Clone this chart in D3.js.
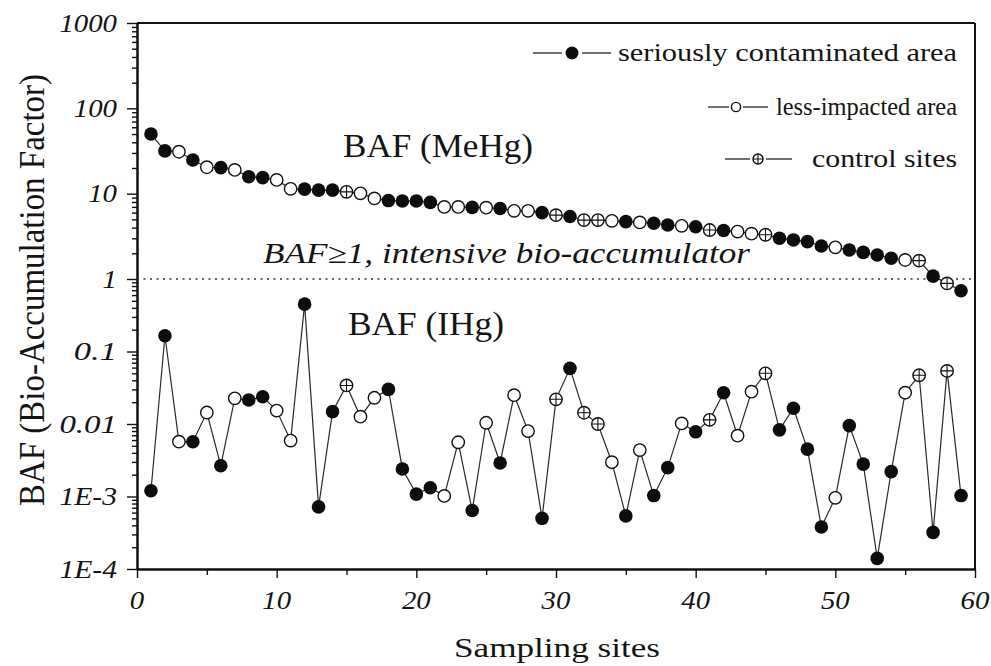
<!DOCTYPE html>
<html>
<head>
<meta charset="utf-8">
<script src="https://cdn.jsdelivr.net/npm/d3@7"></script>
<style>
  body { margin: 0; background: #fff; }
  svg { display: block; }
  text { font-family: "Liberation Serif", "Times New Roman", serif; fill: #141414; }
</style>
</head>
<body>
<svg id="chart" width="991" height="666"></svg>
<script>
// site groups: S = seriously contaminated, L = less-impacted, C = control
const siteType = ['S','S','L','S','L','S','L','S','S','L',
                  'L','S','S','S','C','L','L','S','S','S',
                  'S','L','L','S','L','S','L','L','S','C',
                  'S','C','C','L','S','L','S','S','L','S',
                  'C','S','L','L','C','S','S','S','S','L',
                  'S','S','S','S','L','C','S','C','S'];

const bafMeHg = [50, 31.7, 31, 24.8, 20.4, 20.2, 19, 15.8, 15.4, 14.5,
                 11.4, 11.3, 11.0, 11.0, 10.5, 10.1, 8.8, 8.3, 8.2, 8.2,
                 7.9, 7.0, 7.0, 6.9, 6.85, 6.7, 6.3, 6.3, 6.0, 5.6,
                 5.4, 4.9, 4.9, 4.8, 4.7, 4.6, 4.5, 4.3, 4.2, 4.1,
                 3.75, 3.7, 3.6, 3.4, 3.3, 3.0, 2.87, 2.74, 2.44, 2.35,
                 2.19, 2.05, 1.91, 1.75, 1.67, 1.64, 1.08, 0.87, 0.69];

const bafIHg = [0.0012, 0.165, 0.0057, 0.0057, 0.0144, 0.00266, 0.0226, 0.0214, 0.0238, 0.0153,
                0.0059, 0.45, 0.00072, 0.0148, 0.034, 0.0126, 0.023, 0.030, 0.0024, 0.00108,
                0.00132, 0.00102, 0.0056, 0.00064, 0.0104, 0.0029, 0.025, 0.0080, 0.00050, 0.0219,
                0.0586, 0.0143, 0.0100, 0.00297, 0.00054, 0.00437, 0.00103, 0.0025, 0.0102, 0.0078,
                0.0114, 0.027, 0.0069, 0.0279, 0.050, 0.0083, 0.0165, 0.0045, 0.00038, 0.00096,
                0.0095, 0.0028, 0.00014, 0.0022, 0.027, 0.047, 0.00032, 0.054, 0.00103];

const yTicks = [1e-4, 1e-3, 0.01, 0.1, 1, 10, 100, 1000];
const yTickLabels = ['1E-4', '1E-3', '0.01', '0.1', '1', '10', '100', '1000'];
const xTicks = [0, 10, 20, 30, 40, 50, 60];
const xMinorTicks = [5, 15, 25, 35, 45, 55];
const legendTypes = ['S', 'L', 'C'];
const legendLabels = ['seriously contaminated area', 'less-impacted area', 'control sites'];
const threshold = 1;

const svg = d3.select('#chart');
const plotLeft = 137, plotRight = 975, plotTop = 23, plotBottom = 569;

const x = d3.scaleLinear().domain([0, 60]).range([plotLeft, plotRight]);
// the published figure has uneven decades above and below 1, so map it piecewise
const y = d3.scaleLog().domain([1e-4, 1, 1000]).range([plotBottom, 279, plotTop]);

const yMinor = [];
yTicks.slice(0, -1).forEach(t => { for (let k = 2; k < 10; k++) yMinor.push(t * k); });

// helper for stretched serif labels
function label(str, px, py, o) {
  const t = svg.append('text')
    .attr('transform', `translate(${px},${py})` + (o.rot ? ` rotate(${o.rot})` : ''))
    .attr('font-size', o.size)
    .attr('text-anchor', o.anchor || 'start')
    .attr('font-style', o.italic ? 'italic' : 'normal')
    .text(str);
  if (o.len) t.attr('textLength', o.len).attr('lengthAdjust', 'spacingAndGlyphs');
  return t;
}

// frame
svg.append('line').attr('x1', plotLeft).attr('x2', plotRight).attr('y1', plotTop).attr('y2', plotTop)
  .attr('stroke', '#111').attr('stroke-width', 2);
svg.append('line').attr('x1', plotRight).attr('x2', plotRight).attr('y1', plotTop).attr('y2', plotBottom)
  .attr('stroke', '#111').attr('stroke-width', 2);

// axes
const axisStyle = g => {
  g.select('.domain').attr('stroke', '#111').attr('stroke-width', 2);
  g.selectAll('.tick line').attr('stroke', '#111').attr('stroke-width', 1.4);
  g.selectAll('.tick text').remove();
};
svg.append('g').attr('transform', `translate(${plotLeft},0)`)
  .call(d3.axisLeft(y).tickValues(yMinor).tickSize(5).tickSizeOuter(0)).call(axisStyle);
svg.append('g').attr('transform', `translate(${plotLeft},0)`)
  .call(d3.axisLeft(y).tickValues(yTicks).tickSize(10).tickSizeOuter(0)).call(axisStyle);
svg.append('g').attr('transform', `translate(0,${plotBottom})`)
  .call(d3.axisBottom(x).tickValues(xMinorTicks).tickSize(6).tickSizeOuter(0)).call(axisStyle);
svg.append('g').attr('transform', `translate(0,${plotBottom})`)
  .call(d3.axisBottom(x).tickValues(xTicks).tickSize(9).tickSizeOuter(0)).call(axisStyle);

yTicks.forEach((t, i) => label(yTickLabels[i], 117, y(t) + 8.5, { size: 25, anchor: 'end', italic: true, len: yTickLabels[i].length * 14.4 }));
xTicks.forEach(t => label(String(t), x(t), 609, { size: 25, anchor: 'middle', italic: true, len: String(t).length * 14.4 }));

// threshold line
svg.append('line').attr('x1', plotLeft).attr('x2', plotRight).attr('y1', y(threshold)).attr('y2', y(threshold))
  .attr('stroke', '#333').attr('stroke-width', 1.4).attr('stroke-dasharray', '2,4.5');

// markers
function marker(g, type, cx, cy, r) {
  if (type === 'S') {
    g.append('circle').attr('cx', cx).attr('cy', cy).attr('r', r).attr('fill', '#0d0d0d');
  } else {
    g.append('circle').attr('cx', cx).attr('cy', cy).attr('r', r - 0.6)
      .attr('fill', '#fff').attr('stroke', '#111').attr('stroke-width', 1.4);
    if (type === 'C') {
      g.append('path')
        .attr('d', `M${cx - r + 0.6},${cy}H${cx + r - 0.6}M${cx},${cy - r + 0.6}V${cy + r - 0.6}`)
        .attr('stroke', '#111').attr('stroke-width', 1.1);
    }
  }
}

const line = d3.line().x((d, i) => x(i + 1)).y(d => y(d));
[bafMeHg, bafIHg].forEach(series => {
  svg.append('path').datum(series).attr('d', line)
    .attr('fill', 'none').attr('stroke', '#2a2a2a').attr('stroke-width', 1.2);
  const g = svg.append('g');
  series.forEach((v, i) => marker(g, siteType[i], x(i + 1), y(v), 6.8));
});

// in-plot annotations
label('BAF (MeHg)', 343, 157, { size: 34, len: 190 });
label('BAF (IHg)', 348, 335, { size: 34, len: 156 });
label('BAF\u22651, intensive bio-accumulator', 263, 263, { size: 29, italic: true, len: 487 });

// legend
const legendRows = [
  { y: 53, l1: 533, l2: 562, cx: 572, r2: 582, r3: 611, r: 6.5, tx: 618, size: 25 },
  { y: 107, l1: 708, l2: 729, cx: 736, r2: 743, r3: 768, r: 5.2, tx: 776, size: 25 },
  { y: 159, l1: 725, l2: 750, cx: 758, r2: 766, r3: 792, r: 5.6, tx: 812, size: 25 }
];
legendTypes.forEach((type, i) => {
  const row = legendRows[i];
  const g = svg.append('g');
  g.append('line').attr('x1', row.l1).attr('x2', row.l2).attr('y1', row.y).attr('y2', row.y)
    .attr('stroke', '#222').attr('stroke-width', 1.3);
  g.append('line').attr('x1', row.r2).attr('x2', row.r3).attr('y1', row.y).attr('y2', row.y)
    .attr('stroke', '#222').attr('stroke-width', 1.3);
  marker(g, type, row.cx, row.y, row.r);
  label(legendLabels[i], row.tx, row.y + 8, { size: row.size, len: 957 - row.tx });
});

// axis titles
label('Sampling sites', 557, 657, { size: 28, anchor: 'middle', len: 206 });
label('BAF (Bio-Accumulation Factor)', 44, 290, { size: 35, anchor: 'middle', rot: -90, len: 432 });
</script>
</body>
</html>
